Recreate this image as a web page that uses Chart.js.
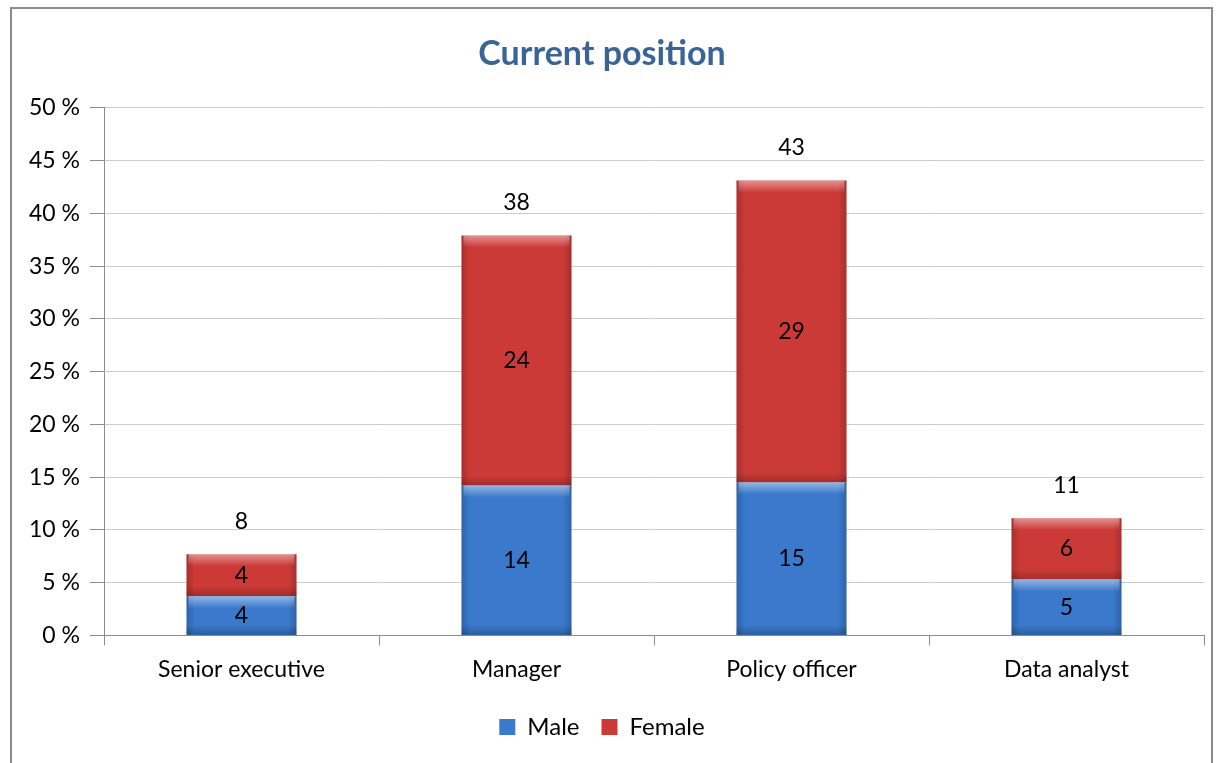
<!DOCTYPE html>
<html>
<head>
<meta charset="utf-8">
<script src="https://cdn.jsdelivr.net/npm/chart.js@4"></script>
<style>
  body { margin: 0; background: #fff; }
  #frame { position: absolute; left: 10px; top: 7px; width: 1203px; height: 800px; border: 2px solid #8c8c8c; box-sizing: border-box; }
  #wrap { position: absolute; left: 0; top: 0; width: 1216px; height: 763px; }
</style>
</head>
<body>
<div id="frame"></div>
<div id="wrap"><canvas id="chart" width="1216" height="763"></canvas></div>
<script>
const categories = ['Senior executive', 'Manager', 'Policy officer', 'Data analyst'];
const male = [3.7, 14.2, 14.5, 5.3];
const female = [4.0, 23.7, 28.6, 5.8];
const yTicks = [0, 5, 10, 15, 20, 25, 30, 35, 40, 45, 50];

const FONT = 'Lato, "Open Sans", sans-serif';

// segment values inside bars + totals above
const barLabels = {
  id: 'barLabels',
  afterDatasetsDraw(chart) {
    const { ctx } = chart;
    ctx.save();
    ctx.font = '23px ' + FONT;
    ctx.fillStyle = '#000';
    ctx.textAlign = 'center';
    ctx.textBaseline = 'middle';
    chart.data.datasets.forEach((ds, i) => {
      const meta = chart.getDatasetMeta(i);
      meta.data.forEach((bar, j) => {
        const v = ds.data[j];
        ctx.fillText(Math.round(v), bar.x, (bar.y + bar.base) / 2);
      });
    });
    const top = chart.getDatasetMeta(chart.data.datasets.length - 1);
    top.data.forEach((bar, j) => {
      const total = male[j] + female[j];
      ctx.fillText(Math.round(total), bar.x, bar.y - 33);
    });
    ctx.restore();
  }
};

// bevel look of the bars
const bevel = {
  id: 'bevel',
  afterDatasetDraw(chart, args) {
    const { ctx } = chart;
    ctx.save();
    args.meta.data.forEach(bar => {
      const x0 = bar.x - bar.width / 2, w = bar.width;
      const y0 = Math.min(bar.y, bar.base), h = Math.abs(bar.base - bar.y);
      const g = ctx.createLinearGradient(x0, 0, x0 + w, 0);
      g.addColorStop(0, 'rgba(0,0,0,0.18)');
      g.addColorStop(0.08, 'rgba(0,0,0,0)');
      g.addColorStop(0.92, 'rgba(0,0,0,0)');
      g.addColorStop(1, 'rgba(0,0,0,0.18)');
      ctx.fillStyle = g;
      ctx.fillRect(x0, y0, w, h);
      const t = ctx.createLinearGradient(0, y0, 0, y0 + 12);
      t.addColorStop(0, 'rgba(255,255,255,0.45)');
      t.addColorStop(1, 'rgba(255,255,255,0)');
      ctx.fillStyle = t;
      ctx.fillRect(x0 + 2, y0, w - 4, Math.min(12, h));
      const b = ctx.createLinearGradient(0, y0 + h - 10, 0, y0 + h);
      b.addColorStop(0, 'rgba(0,0,0,0)');
      b.addColorStop(1, 'rgba(0,0,0,0.22)');
      ctx.fillStyle = b;
      ctx.fillRect(x0, y0 + h - 10, w, 10);
    });
    ctx.restore();
  }
};

new Chart(document.getElementById('chart'), {
  type: 'bar',
  data: {
    labels: categories,
    datasets: [
      { label: 'Male', data: male, backgroundColor: '#3a79cc', borderWidth: 0 },
      { label: 'Female', data: female, backgroundColor: '#cc3a37', borderWidth: 0 },
    ],
  },
  options: {
    responsive: false,
    animation: false,
    barPercentage: 0.8,
    categoryPercentage: 0.5,
    layout: { padding: { left: 0, right: 12, top: 0, bottom: 14 } },
    plugins: {
      title: {
        display: true,
        text: 'Current position',
        color: '#3a6496',
        font: { family: FONT, size: 34, weight: 'bold' },
        padding: { top: 34, bottom: 33 },
      },
      legend: {
        position: 'bottom',
        labels: {
          color: '#000',
          font: { family: FONT, size: 24 },
          boxWidth: 16,
          boxHeight: 16,
          padding: 22,
        },
      },
      tooltip: { enabled: false },
    },
    scales: {
      x: {
        stacked: true,
        grid: { offset: true, drawOnChartArea: false, drawTicks: true, tickLength: 10, color: '#8c8c8c' },
        border: { color: '#8c8c8c', width: 1 },
        ticks: { color: '#000', font: { family: FONT, size: 23 }, padding: 10 },
      },
      y: {
        stacked: true,
        min: 0,
        max: 50,
        afterBuildTicks: s => { s.ticks = yTicks.map(v => ({ value: v })); },
        afterFit: s => { s.width = 104; },
        grid: { color: '#cbcbcb', tickLength: 14, tickColor: '#8c8c8c' },
        border: { color: '#8c8c8c', width: 1 },
        ticks: { color: '#000', font: { family: FONT, size: 23 }, padding: 10, callback: v => v + ' %' },
      },
    },
  },
  plugins: [bevel, barLabels],
});
</script>
</body>
</html>
